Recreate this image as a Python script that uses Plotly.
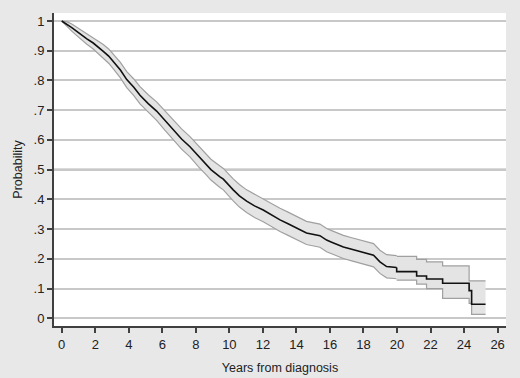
import plotly.graph_objects as go

# Kaplan-Meier estimate: dense early part (many small steps)
years = [0.0, 0.3, 0.6, 0.9, 1.2, 1.5, 1.88, 2.2, 2.48, 2.8, 3.08, 3.5, 3.88, 4.3, 4.67,
         5.16, 5.66, 6.15, 6.65, 7.15, 7.65, 8.15, 8.65, 8.9, 9.44, 9.64, 10.23, 10.6,
         11.03, 11.5, 12.02, 12.5, 13.02, 13.5, 14.0, 14.6, 15.4, 15.8, 16.1, 16.8,
         17.3, 17.8, 18.2, 18.6, 18.98, 19.38, 19.98]
survival = [1.0, 0.99, 0.978, 0.965, 0.952, 0.94, 0.926, 0.912, 0.898, 0.882, 0.864, 0.835,
            0.803, 0.777, 0.750, 0.722, 0.697, 0.665, 0.635, 0.603, 0.577, 0.545, 0.516,
            0.50, 0.476, 0.468, 0.432, 0.412, 0.394, 0.378, 0.364, 0.347, 0.331, 0.318,
            0.305, 0.287, 0.278, 0.263, 0.256, 0.240, 0.232, 0.225, 0.219, 0.212, 0.19,
            0.174, 0.171]
upper = [1.0, 0.998, 0.99, 0.979, 0.968, 0.958, 0.946, 0.934, 0.921, 0.906, 0.889, 0.861,
         0.830, 0.805, 0.779, 0.752, 0.728, 0.697, 0.668, 0.637, 0.611, 0.580, 0.551,
         0.535, 0.512, 0.504, 0.469, 0.450, 0.432, 0.417, 0.403, 0.386, 0.370, 0.357,
         0.344, 0.326, 0.317, 0.302, 0.295, 0.279, 0.271, 0.264, 0.258, 0.251, 0.229,
         0.214, 0.211]
lower = [1.0, 0.982, 0.966, 0.951, 0.936, 0.922, 0.906, 0.890, 0.875, 0.858, 0.839, 0.809,
         0.776, 0.749, 0.721, 0.692, 0.666, 0.633, 0.602, 0.569, 0.543, 0.510, 0.481,
         0.465, 0.440, 0.432, 0.395, 0.374, 0.356, 0.339, 0.325, 0.308, 0.292, 0.279,
         0.266, 0.248, 0.239, 0.224, 0.217, 0.201, 0.193, 0.186, 0.180, 0.173, 0.151,
         0.136, 0.133]

# Sparse tail: visible individual steps
tail_years = [19.98, 21.17, 21.76, 22.72, 24.3, 24.45, 25.28]
tail_survival = [0.157, 0.142, 0.132, 0.118, 0.093, 0.047, 0.047]
tail_upper = [0.208, 0.198, 0.190, 0.176, 0.126, 0.126, 0.126]
tail_lower = [0.128, 0.115, 0.100, 0.067, 0.050, 0.013, 0.013]

x_ticks = list(range(0, 27, 2))
y_ticks = [0, 0.1, 0.2, 0.3, 0.4, 0.5, 0.6, 0.7, 0.8, 0.9, 1.0]
y_tick_labels = ["0", ".1", ".2", ".3", ".4", ".5", ".6", ".7", ".8", ".9", "1"]

band_line = dict(color="#a0a0a0", width=1.2)
fig = go.Figure()
# early band
fig.add_trace(go.Scatter(x=years, y=upper, mode="lines", line=dict(**band_line, shape="linear"),
                         hoverinfo="skip", showlegend=False))
fig.add_trace(go.Scatter(x=years, y=lower, mode="lines", line=dict(**band_line, shape="linear"),
                         fill="tonexty", fillcolor="#e4e4e4", hoverinfo="skip", showlegend=False))
# tail band
fig.add_trace(go.Scatter(x=tail_years, y=tail_upper, mode="lines", line=dict(**band_line, shape="hv"),
                         hoverinfo="skip", showlegend=False))
fig.add_trace(go.Scatter(x=tail_years, y=tail_lower, mode="lines", line=dict(**band_line, shape="hv"),
                         fill="tonexty", fillcolor="#e4e4e4", hoverinfo="skip", showlegend=False))
# estimate
fig.add_trace(go.Scatter(x=years, y=survival, mode="lines", line=dict(color="#111111", width=1.6, shape="linear"),
                         showlegend=False))
fig.add_trace(go.Scatter(x=[years[-1]] + tail_years, y=[survival[-1]] + tail_survival, mode="lines",
                         line=dict(color="#111111", width=1.6, shape="hv"), showlegend=False))

fig.add_shape(type="line", xref="paper", yref="y", x0=0, x1=1, y0=0.5, y1=0.5,
              line=dict(color="#6e6e6e", width=2), layer="below")

font = dict(family="Liberation Sans, Arial, sans-serif", size=13, color="#222222")
title_font = dict(family="Liberation Sans, Arial, sans-serif", size=12.5, color="#222222")
fig.update_layout(
    width=520, height=378,
    margin=dict(l=54, r=14, t=13, b=52),
    paper_bgcolor="#e8e8e8", plot_bgcolor="#ffffff",
    font=font,
    xaxis=dict(range=[-0.46, 26.5], tickvals=x_ticks, ticks="outside", ticklen=5, tickwidth=1.5,
               tickcolor="#404040", showline=True, linecolor="#404040", linewidth=2,
               showgrid=False, zeroline=False, automargin=False,
               title=dict(text="Years from diagnosis", standoff=13, font=title_font)),
    yaxis=dict(range=[-0.026, 1.027], tickvals=y_ticks, ticktext=y_tick_labels, ticks="outside",
               ticklen=5, tickwidth=1.5, tickcolor="#404040", showline=True, linecolor="#404040",
               linewidth=2, showgrid=True, gridcolor="#c8c8c8", gridwidth=1.5, zeroline=False,
               automargin=False,
               title=dict(text="Probability", standoff=8, font=title_font)),
)
fig.write_html("out.html", config={"displayModeBar": False},
               post_script="document.body.style.margin='0';document.body.style.background='#e8e8e8';")
